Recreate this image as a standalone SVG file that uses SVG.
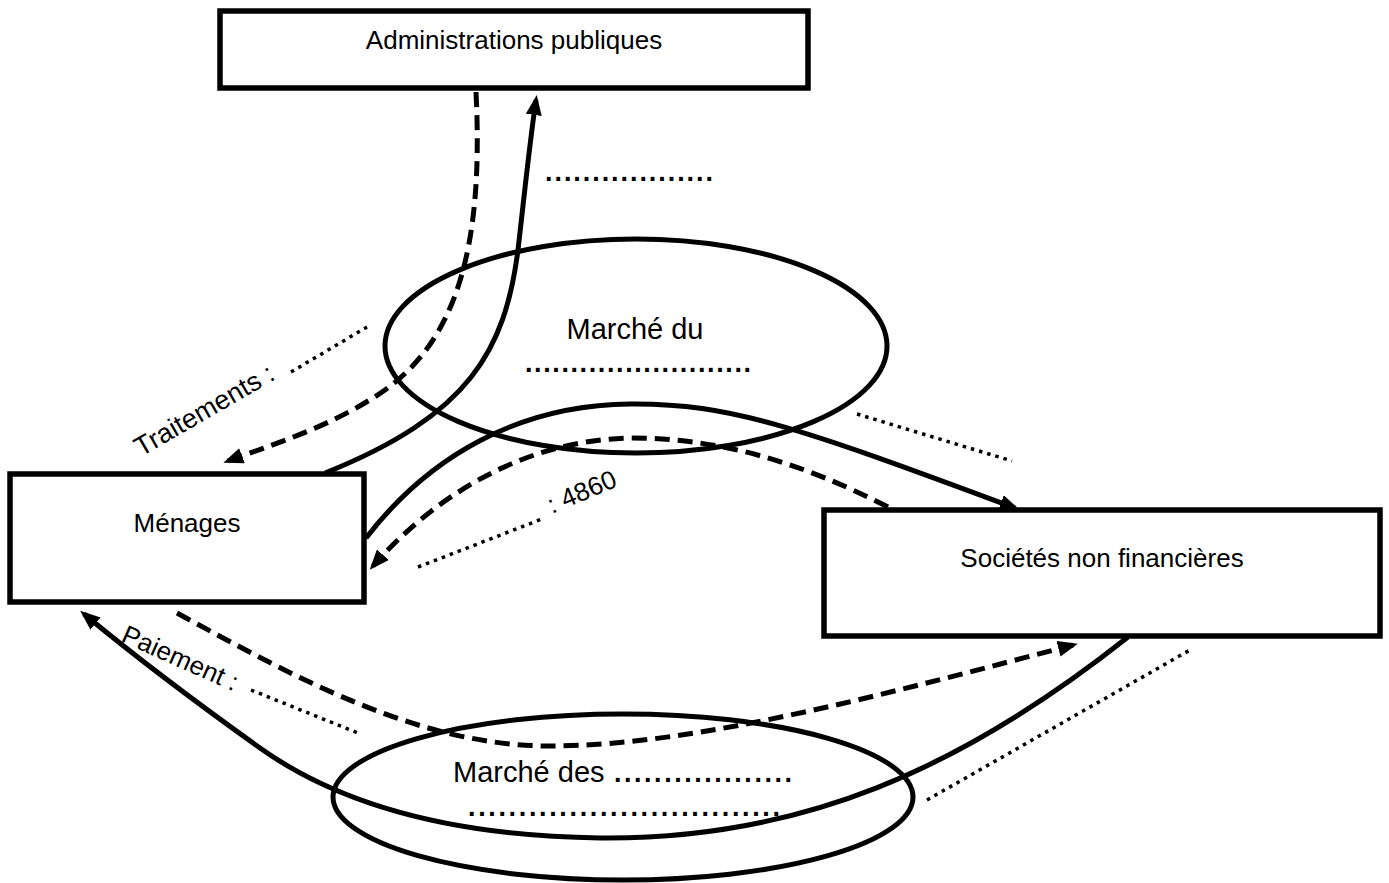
<svg xmlns="http://www.w3.org/2000/svg" width="1389" height="883" viewBox="0 0 1389 883">
<style>
.box{fill:#fff;stroke:#000;stroke-width:5.5}
.ell{fill:none;stroke:#000;stroke-width:5}
.solid{fill:none;stroke:#000;stroke-width:5}
.dash{fill:none;stroke:#000;stroke-width:5;stroke-dasharray:15 8}
.dot{fill:none;stroke:#000;stroke-width:3.5;stroke-dasharray:3.5 5}
.t{font-family:"Liberation Sans",Arial,sans-serif;font-size:26px;fill:#000}
.m{font-size:29px}
.d{font-weight:bold;font-size:27px}
</style>
<defs>
<marker id="ah" viewBox="0 0 20 16" refX="15" refY="8" markerWidth="20" markerHeight="16" markerUnits="userSpaceOnUse" orient="auto">
<path d="M0,0 L20,8 L0,16 z" fill="#000" stroke="none"/>
</marker>
</defs>
<rect width="1389" height="883" fill="#fff"/>
<g id="marche-travail">
<ellipse class="ell" cx="636" cy="346" rx="251" ry="107"/>
<text class="t m" x="635" y="339" text-anchor="middle">Marché du</text>
<text class="t d" x="525" y="372" textLength="226" lengthAdjust="spacing">.........................</text>
</g>
<g id="marche-biens">
<ellipse class="ell" cx="623" cy="797" rx="290" ry="83"/>
<text class="t m" x="453" y="782">Marché des</text>
<text class="t d" x="614" y="782" textLength="178" lengthAdjust="spacing">..................</text>
<text class="t d" x="468" y="816" textLength="312" lengthAdjust="spacing">...............................</text>
</g>
<g id="connectors">
<path class="solid" d="M325,473 C470,415 505,350 518,250 C526,180 530,140 536,100" marker-end="url(#ah)"/>
<path class="dash" d="M476,92 C484,250 455,340 385,390 C330,428 270,445 228,461" marker-end="url(#ah)"/>
<path class="solid" d="M366,538 C430,455 520,405 630,404 C730,403 800,428 1015,508" marker-end="url(#ah)"/>
<path class="dash" d="M888,507 C800,462 720,438 630,438 C530,440 440,490 373,566" marker-end="url(#ah)"/>
<path class="dash" d="M177,613 C300,680 420,746 550,746 C700,746 900,690 1073,645" marker-end="url(#ah)"/>
<path class="solid" d="M1128,637 C960,770 800,840 600,838 C450,836 340,805 260,748 C190,698 125,648 84,614" marker-end="url(#ah)"/>
</g>
<g id="labels">
<text class="t d" x="545" y="181" textLength="168" lengthAdjust="spacing">..................</text>
<text class="t" style="font-size:27px" transform="translate(141,457) rotate(-30)">Traitements :</text>
<path class="dot" d="M291,372 L367,327"/>
<text class="t" transform="translate(552,514) rotate(-23)">: 4860</text>
<path class="dot" d="M418,567 L542,519"/>
<text class="t" transform="translate(120,641) rotate(24)">Paiement :</text>
<path class="dot" d="M251,690 L358,733"/>
<path class="dot" d="M857,414 L1012,461"/>
<path class="dot" d="M927,800 L1190,650"/>
</g>
<g id="administrations">
<rect class="box" x="220" y="11" width="588" height="77"/>
<text class="t" x="514" y="49" text-anchor="middle">Administrations publiques</text>
</g>
<g id="menages">
<rect class="box" x="10" y="474" width="354" height="128"/>
<text class="t" x="187" y="532" text-anchor="middle">Ménages</text>
</g>
<g id="societes">
<rect class="box" x="824" y="510" width="556" height="126"/>
<text class="t" x="1102" y="567" text-anchor="middle">Sociétés non financières</text>
</g>
</svg>
